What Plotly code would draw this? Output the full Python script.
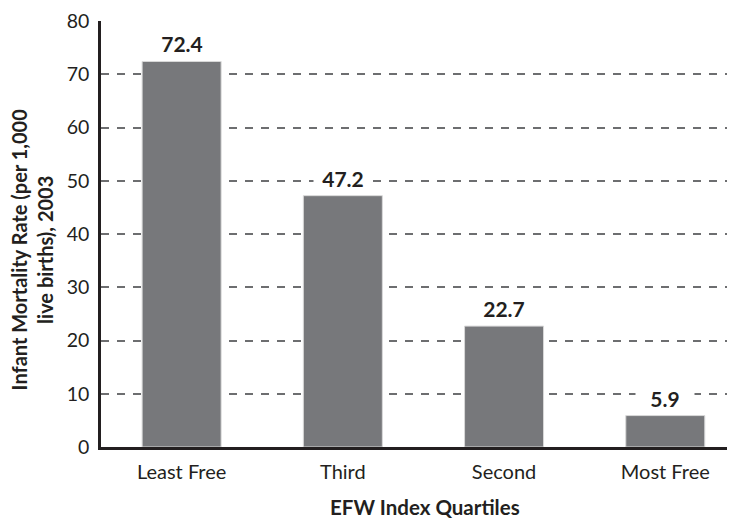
import plotly.graph_objects as go

categories = ["Least Free", "Third", "Second", "Most Free"]
values = [72.4, 47.2, 22.7, 5.9]
value_labels = ["72.4", "47.2", "22.7", "5.9"]
y_ticks = [0, 10, 20, 30, 40, 50, 60, 70, 80]

font_family = "Lato, Open Sans, sans-serif"
ink = "#231f20"

fig = go.Figure(
    go.Bar(
        x=list(range(len(categories))),
        y=values,
        width=0.49,
        marker=dict(color="#77787b", line=dict(color="#d9d9d9", width=1)),
        hoverinfo="skip",
    )
)

for i, (v, lab) in enumerate(zip(values, value_labels)):
    fig.add_annotation(
        x=i, y=v, text="<b>%s</b>" % lab, showarrow=False,
        xref="x", yref="y", yanchor="bottom", yshift=4,
        width=58, bgcolor="white", borderpad=0,
        font=dict(family=font_family, size=21, color=ink),
    )

fig.add_annotation(
    text="<b>Infant Mortality Rate (per 1,000<br>live births), 2003</b>",
    xref="paper", yref="paper", x=-0.11, y=0.465,
    xanchor="center", yanchor="middle", textangle=-90, showarrow=False,
    font=dict(family=font_family, size=20, color=ink),
)
fig.add_annotation(
    text="<b>EFW Index Quartiles</b>",
    xref="paper", yref="paper", x=0.513, y=-0.141,
    xanchor="center", yanchor="middle", showarrow=False,
    font=dict(family=font_family, size=20.5, color=ink),
)

fig.update_layout(
    width=727,
    height=510,
    margin=dict(l=93, r=2, t=13, b=71),
    paper_bgcolor="white",
    plot_bgcolor="white",
    showlegend=False,
    font=dict(family=font_family, color=ink),
    xaxis=dict(
        range=[-0.5, 3.42],
        tickmode="array",
        tickvals=list(range(len(categories))),
        ticktext=categories,
        tickfont=dict(size=20, color=ink),
        showgrid=False,
        zeroline=False,
        showline=True,
        linecolor=ink,
        linewidth=2.5,
        ticks="",
        ticklabelstandoff=5,
        automargin=False,
    ),
    yaxis=dict(
        range=[0, 80],
        tickmode="array",
        tickvals=y_ticks,
        tickfont=dict(size=19.5, color=ink),
        showgrid=True,
        gridcolor="#6d6e70",
        gridwidth=1.5,
        griddash="8px,8px",
        zeroline=False,
        showline=True,
        linecolor=ink,
        linewidth=2.5,
        ticks="",
        ticklabelstandoff=5,
        automargin=False,
    ),
)

fig.write_html("out.html")
